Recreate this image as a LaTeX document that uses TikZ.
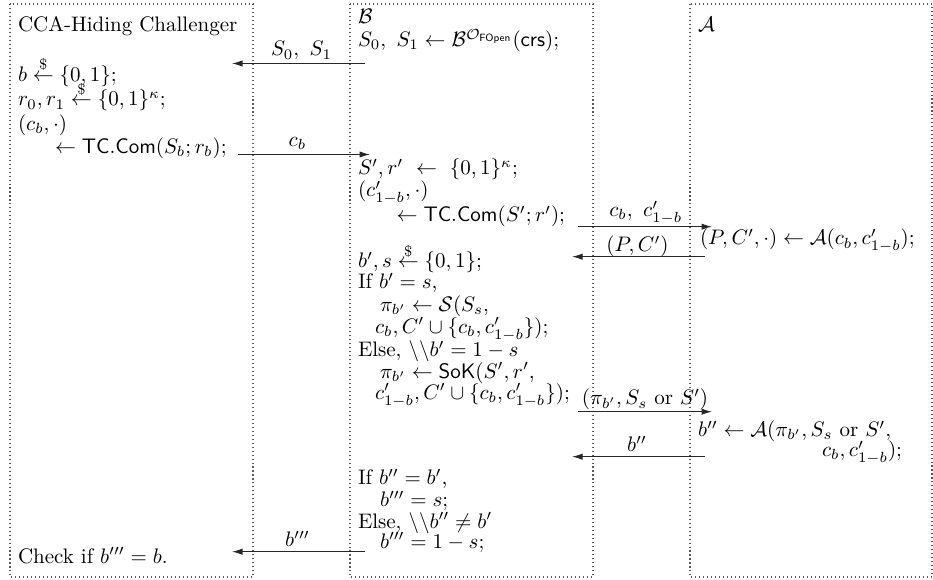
\documentclass[tikz,border=0pt]{standalone}
\usepackage{amsmath,amssymb}
\usetikzlibrary{arrows.meta}
\begin{document}
\begin{tikzpicture}[x=0.4763pt,y=-0.4763pt,
  txt/.style={anchor=base west,inner sep=0pt,outer sep=0pt},
  txtr/.style={anchor=base east,inner sep=0pt,outer sep=0pt},
  lbl/.style={anchor=base,inner sep=0pt,outer sep=0pt},
  box/.style={draw=black!65,dash pattern=on 0.5pt off 1.4pt,line width=0.5pt},
  msg/.style={draw=black!85,line width=0.5pt,-{Latex[length=5pt,width=3pt]}}]
\useasboundingbox (0,0) rectangle (933,580);
% boxes
\draw[box] (10,4) rectangle (253,577);
\draw[box] (350,4) rectangle (593,577);
\draw[box] (690,4) rectangle (932,577);
% box 1
\node[txt] (c1) at (18,31.7) {CCA-Hiding Challenger};
\node[txt] (c2) at (18,81.7) {$b \stackrel{\$}{\leftarrow} \{0,1\};$};
\node[txt] (c3) at (18,106) {$r_0, r_1 \stackrel{\$}{\leftarrow} \{0,1\}^\kappa;$};
\node[txt] (c4) at (18,130.7) {$(c_b, \cdot)$};
\node[txt] (c5) at (55,153.3) {$\leftarrow \mathsf{TC.Com}(S_b; r_b);$};
\node[txt] (c6) at (18,563.3) {Check if $b''' = b$.};
% box 2
\node[txt] (b1) at (358,24) {$\mathcal{B}$};
\node[txt] (b2) at (358,46.7) {$S_0,\ S_1 \leftarrow \mathcal{B}^{\mathcal{O}_{\mathsf{FOpen}}}(\mathsf{crs});$};
\node[txt] (b3) at (358,175) {$S', r'\ \leftarrow\ \{0,1\}^\kappa;$};
\node[txt] (b4) at (358,196.7) {$(c'_{1-b}, \cdot)$};
\node[txt] (b5) at (396.7,221.7) {$\leftarrow \mathsf{TC.Com}(S'; r');$};
\node[txt] (b6) at (358,268) {$b', s \stackrel{\$}{\leftarrow} \{0,1\};$};
\node[txt] (b7) at (358,289) {If $b' = s$,};
\node[txt] (b8) at (380,311.7) {$\pi_{b'} \leftarrow \mathcal{S}(S_s,$};
\node[txt] (b9) at (375,333.3) {$c_b, C' \cup \{c_b, c'_{1-b}\});$};
\node[txt] (b10) at (358,356.7) {Else, $\backslash\backslash b' = 1 - s$};
\node[txt] (b11) at (380,378.3) {$\pi_{b'} \leftarrow \mathsf{SoK}(S', r',$};
\node[txt] (b12) at (375,399.3) {$c'_{1-b}, C' \cup \{c_b, c'_{1-b}\});$};
\node[txt] (b13) at (358,485) {If $b'' = b'$,};
\node[txt] (b14) at (380,506.7) {$b''' = s;$};
\node[txt] (b15) at (358,528.3) {Else, $\backslash\backslash b'' \neq b'$};
\node[txt] (b16) at (380,548.3) {$b''' = 1 - s;$};
% box 3
\node[txt] (a1) at (698,31.7) {$\mathcal{A}$};
\node[txt] (a2) at (700,245) {$(P, C', \cdot) \leftarrow \mathcal{A}(c_b, c'_{1-b});$};
\node[txt] (a3) at (698,436.7) {$b'' \leftarrow \mathcal{A}(\pi_{b'}, S_s\ \text{or}\ S',$};
\node[txtr] (a4) at (902,456.7) {$c_b, c'_{1-b});$};
% arrow end points
\coordinate (m1s) at (365,63.5);  \coordinate (m1e) at (232,63.5);
\coordinate (m2s) at (238,154.5); \coordinate (m2e) at (370,154.5);
\coordinate (m3s) at (578,226.7); \coordinate (m3e) at (712,226.7);
\coordinate (m4s) at (705,256.7); \coordinate (m4e) at (572,256.7);
\coordinate (m5s) at (578,411.7); \coordinate (m5e) at (712,411.7);
\coordinate (m6s) at (705,456.7); \coordinate (m6e) at (572,456.7);
\coordinate (m7s) at (365,551.7); \coordinate (m7e) at (232,551.7);
\draw[msg] (m1s) -- (m1e);
\draw[msg] (m2s) -- (m2e);
\draw[msg] (m3s) -- (m3e);
\draw[msg] (m4s) -- (m4e);
\draw[msg] (m5s) -- (m5e);
\draw[msg] (m6s) -- (m6e);
\draw[msg] (m7s) -- (m7e);
% arrow labels
\node[lbl] (l1) at (301.5,56) {$S_0,\ S_1$};
\node[lbl] (l2) at (297.5,146.7) {$c_b$};
\node[lbl] (l3) at (645.8,216.7) {$c_b,\ c'_{1-b}$};
\node[lbl] (l4) at (637.5,251.7) {$(P, C')$};
\node[lbl] (l5) at (645,405) {$(\pi_{b'}, S_s\ \text{or}\ S')$};
\node[lbl] (l6) at (637,451.7) {$b''$};
\node[lbl] (l7) at (297.5,546.7) {$b'''$};
\end{tikzpicture}
\end{document}
